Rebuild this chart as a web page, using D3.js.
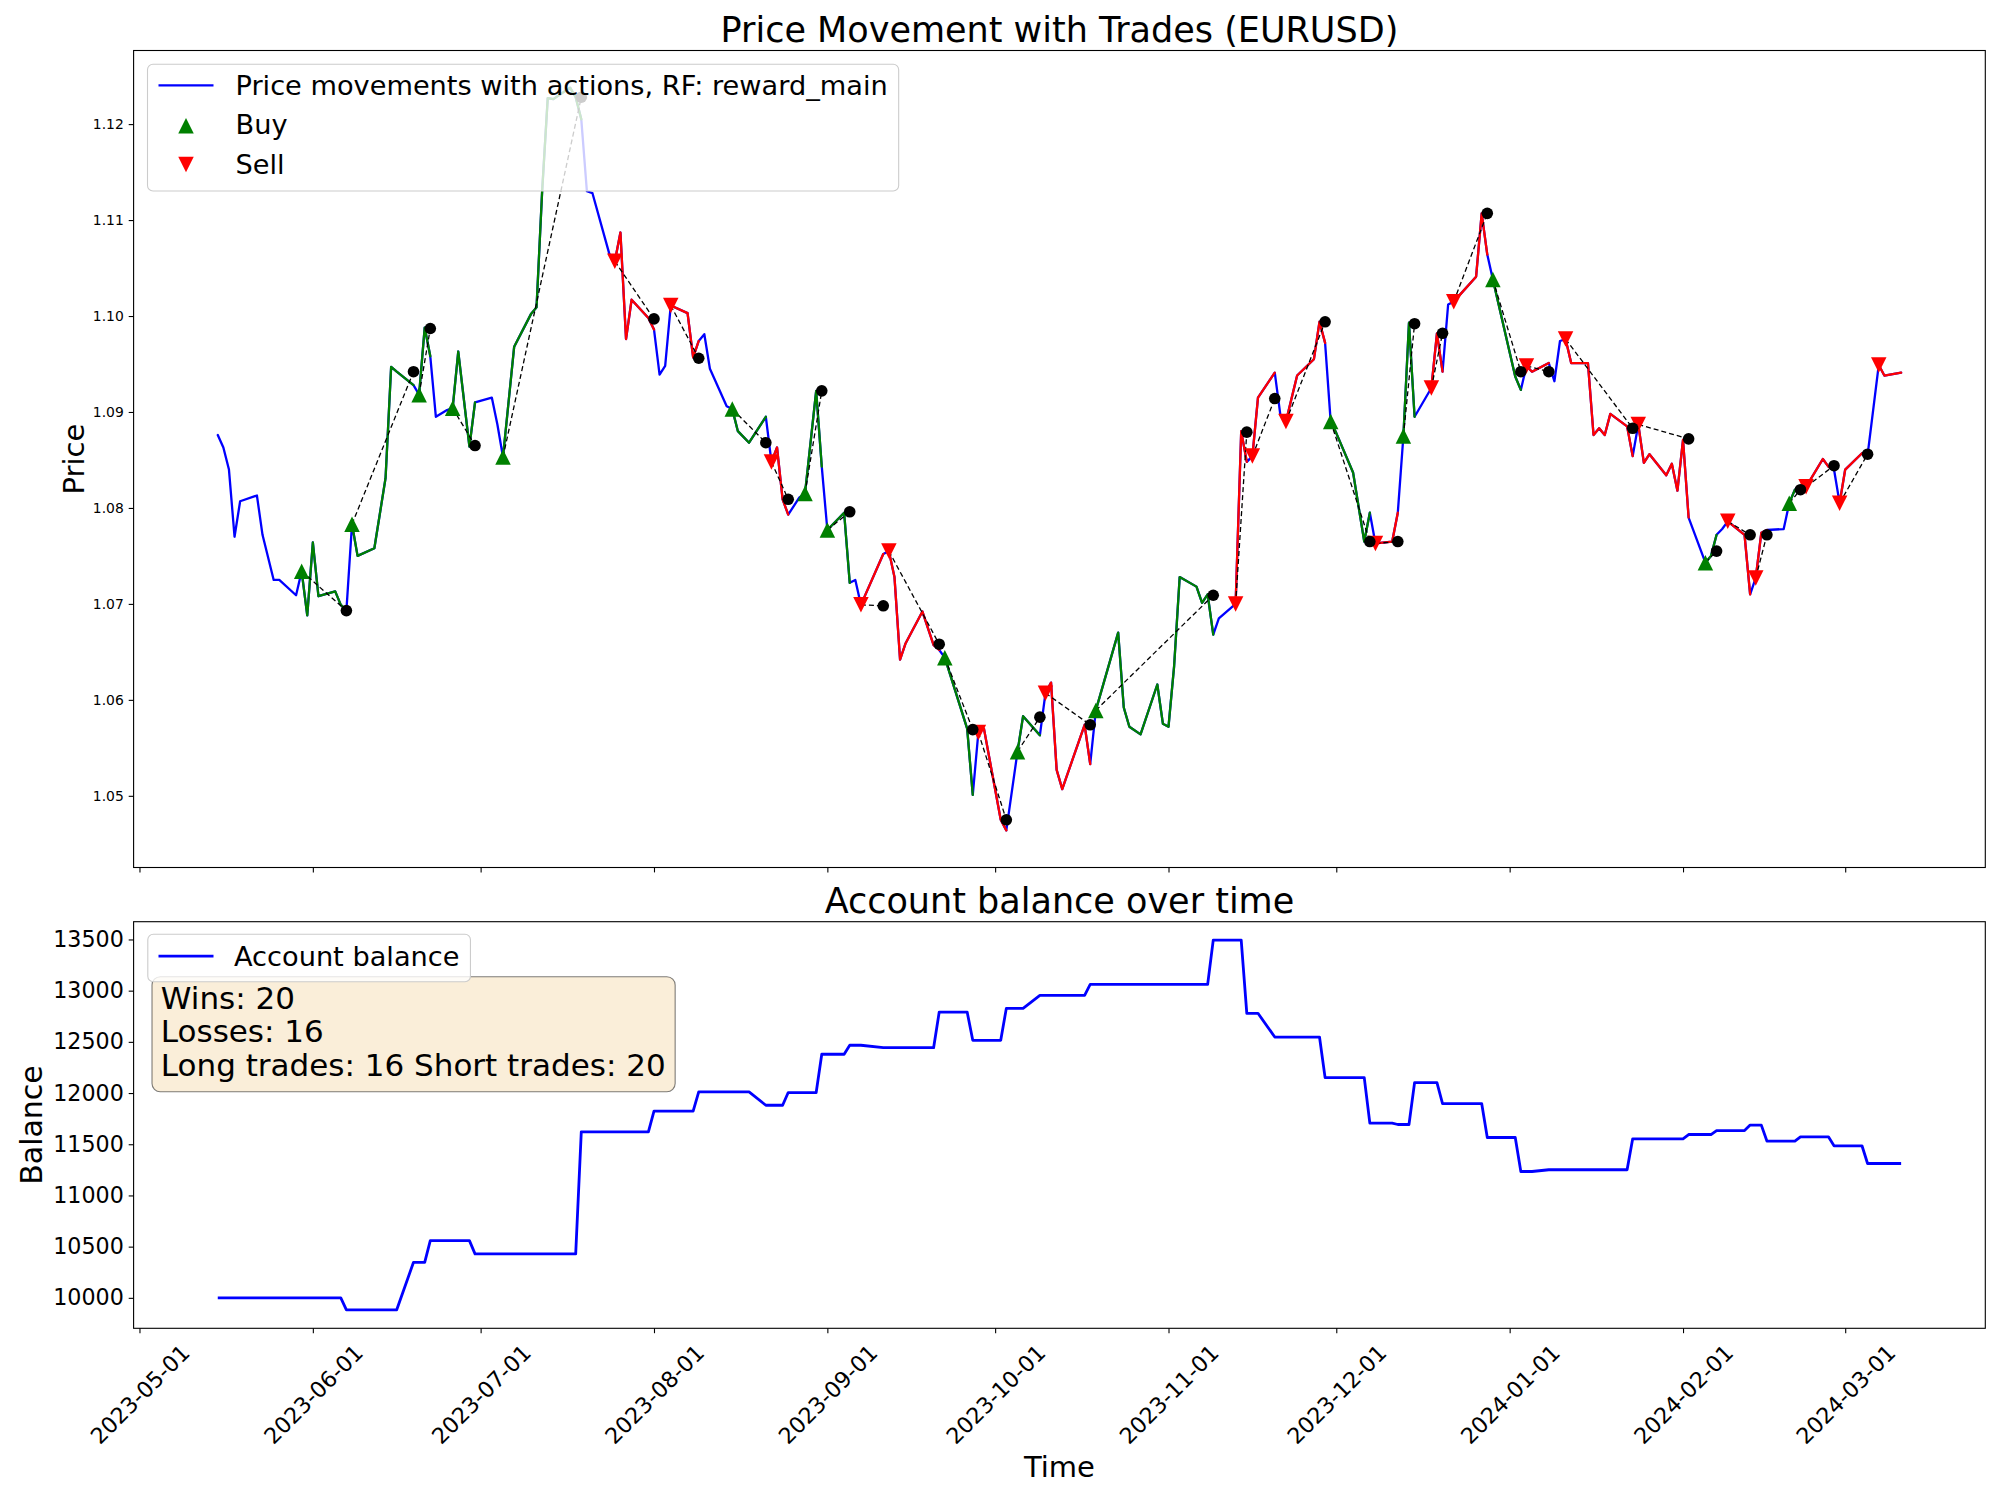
<!DOCTYPE html>
<html lang="en">
<head>
<meta charset="UTF-8">
<title>Price Movement with Trades (EURUSD)</title>
<script src="https://d3js.org/d3.v7.min.js"></script>
<style>
    body { margin: 0; background: #ffffff; }
    svg { display: block; font-family: "DejaVu Sans", sans-serif; }
</style>
</head>
<body>
<svg id="chart" width="2000" height="1500"></svg>
<script>
// ---- data ----
const priceDates = [
    "2023-05-15","2023-05-16","2023-05-17","2023-05-18","2023-05-19",
    "2023-05-22","2023-05-23","2023-05-25","2023-05-26",
    "2023-05-29","2023-05-30","2023-05-31","2023-06-01","2023-06-02",
    "2023-06-05","2023-06-06","2023-06-07","2023-06-08","2023-06-09",
    "2023-06-12","2023-06-14","2023-06-15","2023-06-16",
    "2023-06-19","2023-06-20","2023-06-21","2023-06-22","2023-06-23",
    "2023-06-25","2023-06-26","2023-06-27","2023-06-29","2023-06-30",
    "2023-07-03","2023-07-04","2023-07-05","2023-07-07",
    "2023-07-10","2023-07-11","2023-07-12","2023-07-13","2023-07-14",
    "2023-07-17","2023-07-18","2023-07-19","2023-07-20","2023-07-21",
    "2023-07-24","2023-07-25","2023-07-26","2023-07-27","2023-07-28",
    "2023-07-31","2023-08-01","2023-08-02","2023-08-03","2023-08-04",
    "2023-08-07","2023-08-08","2023-08-09","2023-08-10","2023-08-11",
    "2023-08-14","2023-08-15","2023-08-16","2023-08-18",
    "2023-08-21","2023-08-22","2023-08-23","2023-08-24","2023-08-25",
    "2023-08-27","2023-08-28","2023-08-30","2023-08-31","2023-09-01",
    "2023-09-04","2023-09-05","2023-09-06","2023-09-07",
    "2023-09-11","2023-09-12","2023-09-13","2023-09-14","2023-09-15",
    "2023-09-18","2023-09-20","2023-09-21","2023-09-22",
    "2023-09-26","2023-09-27","2023-09-28","2023-09-29",
    "2023-10-02","2023-10-03","2023-10-05","2023-10-06",
    "2023-10-09","2023-10-10","2023-10-11","2023-10-12","2023-10-13",
    "2023-10-17","2023-10-18","2023-10-19",
    "2023-10-23","2023-10-24","2023-10-25","2023-10-27",
    "2023-10-30","2023-10-31","2023-11-01","2023-11-02","2023-11-03",
    "2023-11-06","2023-11-07","2023-11-08","2023-11-09","2023-11-10",
    "2023-11-13","2023-11-14","2023-11-15","2023-11-16","2023-11-17",
    "2023-11-20","2023-11-21","2023-11-22","2023-11-24",
    "2023-11-27","2023-11-28","2023-11-29","2023-11-30","2023-12-01",
    "2023-12-04","2023-12-06","2023-12-07","2023-12-08",
    "2023-12-11","2023-12-12","2023-12-13","2023-12-14","2023-12-15",
    "2023-12-18","2023-12-19","2023-12-20","2023-12-21","2023-12-22",
    "2023-12-26","2023-12-27","2023-12-28","2023-12-29",
    "2024-01-02","2024-01-03","2024-01-04","2024-01-05",
    "2024-01-08","2024-01-09","2024-01-10","2024-01-11","2024-01-12",
    "2024-01-15","2024-01-16","2024-01-17","2024-01-18","2024-01-19",
    "2024-01-22","2024-01-23","2024-01-24","2024-01-25","2024-01-26",
    "2024-01-29","2024-01-30","2024-01-31","2024-02-01","2024-02-02",
    "2024-02-05","2024-02-06","2024-02-07","2024-02-08","2024-02-09",
    "2024-02-12","2024-02-13","2024-02-14","2024-02-15","2024-02-16",
    "2024-02-19","2024-02-20","2024-02-21","2024-02-22","2024-02-23",
    "2024-02-26","2024-02-27","2024-02-28","2024-02-29","2024-03-01",
    "2024-03-04","2024-03-05","2024-03-07","2024-03-08","2024-03-11"
];

const priceValues = [
    1.0876, 1.0863, 1.0840, 1.0770, 1.0807,
    1.0813, 1.0772, 1.0725, 1.0725,
    1.0709, 1.0734, 1.0688, 1.0764, 1.0708,
    1.0713, 1.0699, 1.0693, 1.0783, 1.0750,
    1.0758, 1.0831, 1.0947, 1.0942,
    1.0928, 1.0918, 1.0988, 1.0958, 1.0895,
    1.0902, 1.0904, 1.0963, 1.0864, 1.0910,
    1.0915, 1.0887, 1.0853, 1.0968,
    1.1002, 1.1009, 1.1130, 1.1227, 1.1226,
    1.1238, 1.1228, 1.1205, 1.1130, 1.1128,
    1.1065, 1.1057, 1.1087, 1.0976, 1.1017,
    1.0998, 1.0986, 1.0939, 1.0948, 1.1011,
    1.1003, 1.0957, 1.0974, 1.0981, 1.0945,
    1.0906, 1.0903, 1.0880, 1.0868,
    1.0895, 1.0848, 1.0863, 1.0809, 1.0793,
    1.0811, 1.0815, 1.0922, 1.0843, 1.0777,
    1.0795, 1.0722, 1.0725, 1.0699,
    1.0752, 1.0755, 1.0728, 1.0642, 1.0659,
    1.0692, 1.0657, 1.0652, 1.0644,
    1.0570, 1.0501, 1.0566, 1.0570,
    1.0475, 1.0464, 1.0546, 1.0583,
    1.0563, 1.0607, 1.0618, 1.0527, 1.0507,
    1.0574, 1.0533, 1.0589,
    1.0670, 1.0592, 1.0572, 1.0564,
    1.0616, 1.0575, 1.0572, 1.0635, 1.0728,
    1.0718, 1.0701, 1.0710, 1.0668, 1.0685,
    1.0700, 1.0880, 1.0848, 1.0854, 1.0915,
    1.0941, 1.0897, 1.0890, 1.0938,
    1.0955, 1.0994, 1.0972, 1.0890, 1.0878,
    1.0837, 1.0765, 1.0795, 1.0763,
    1.0765, 1.0795, 1.0875, 1.0993, 1.0895,
    1.0925, 1.0982, 1.0942, 1.1012, 1.1015,
    1.1041, 1.1107, 1.1064, 1.1038,
    1.0937, 1.0923, 1.0948, 1.0942,
    1.0951, 1.0932, 1.0974, 1.0976, 1.0951,
    1.0951, 1.0876, 1.0883, 1.0876, 1.0898,
    1.0885, 1.0854, 1.0887, 1.0847, 1.0856,
    1.0834, 1.0846, 1.0818, 1.0871, 1.0790,
    1.0743, 1.0750, 1.0772, 1.0778, 1.0786,
    1.0772, 1.0710, 1.0727, 1.0774, 1.0777,
    1.0778, 1.0805, 1.0819, 1.0820, 1.0822,
    1.0851, 1.0843, 1.0840, 1.0805, 1.0840,
    1.0857, 1.0855, 1.0949, 1.0938, 1.0941
];

// trades: entry date, direction, exit date and the price where the exit dot sits
const tradeEntryDates = [
    "2023-05-30","2023-06-08","2023-06-20","2023-06-26","2023-07-05","2023-07-25",
    "2023-08-04","2023-08-15","2023-08-22","2023-08-28","2023-09-01","2023-09-07",
    "2023-09-12","2023-09-22","2023-09-28","2023-10-05","2023-10-10","2023-10-19",
    "2023-11-13","2023-11-16","2023-11-22","2023-11-30","2023-12-08","2023-12-13",
    "2023-12-18","2023-12-22","2023-12-29","2024-01-04","2024-01-11","2024-01-24",
    "2024-02-05","2024-02-09","2024-02-14","2024-02-20","2024-02-23","2024-02-29",
    "2024-03-07"
];
const tradeTypes = [
    "buy","buy","buy","buy","buy","sell",
    "sell","buy","sell","buy","buy","sell",
    "sell","buy","sell","buy","sell","buy",
    "sell","sell","sell","buy","sell","buy",
    "sell","sell","buy","sell","sell","sell",
    "buy","sell","sell","buy","sell","sell",
    "sell"
];
const tradeExitDates = [
    "2023-06-07","2023-06-19","2023-06-22","2023-06-30","2023-07-19","2023-08-01",
    "2023-08-09","2023-08-21","2023-08-25","2023-08-31","2023-09-05","2023-09-11",
    "2023-09-21","2023-09-27","2023-10-03","2023-10-09","2023-10-18","2023-11-09",
    "2023-11-15","2023-11-20","2023-11-29","2023-12-07","2023-12-12","2023-12-15",
    "2023-12-20","2023-12-28","2024-01-03","2024-01-08","2024-01-23","2024-02-02",
    "2024-02-07","2024-02-13","2024-02-16","2024-02-22","2024-02-28","2024-03-05",
    null
];
const tradeExitPrices = [
    1.0693, 1.0942, 1.0987, 1.0865, 1.1228, 1.0997,
    1.0956, 1.0868, 1.0809, 1.0922, 1.0796, 1.0698,
    1.0658, 1.0569, 1.0475, 1.0582, 1.0574, 1.0709,
    1.0879, 1.0914, 1.0994, 1.0765, 1.0765, 1.0992,
    1.0982, 1.1107, 1.0942, 1.0942, 1.0883, 1.0872,
    1.0755, 1.0772, 1.0772, 1.0819, 1.0844, 1.0856,
    null
];

// account balance after each closed trade
const startBalance = 10000;
const exitBalances = [
    9883, 10347, 10559, 10429, 11621, 11823,
    12011, 11881, 12005, 12379, 12467, 12443,
    12791, 12515, 12827, 12954, 13061, 13493,
    12779, 12547, 12151, 11706, 11693, 12102,
    11897, 11566, 11234, 11251, 11553, 11595,
    11634, 11687, 11531, 11573, 11485, 11312
];

const priceTicks = [1.05, 1.06, 1.07, 1.08, 1.09, 1.10, 1.11, 1.12];
const balanceTicks = [10000, 10500, 11000, 11500, 12000, 12500, 13000, 13500];

// ---- build records ----
const parse = d3.utcParse("%Y-%m-%d");
const points = priceDates.map((d, i) => ({ date: parse(d), price: priceValues[i] }));

const trades = tradeEntryDates.map((d, i) => ({
    entry: parse(d),
    type: tradeTypes[i],
    exit: tradeExitDates[i] ? parse(tradeExitDates[i]) : null,
    exitPrice: tradeExitPrices[i]
}));
trades.forEach(t => {
    const p = points.find(p => +p.date === +t.entry);
    t.entryPrice = p.price;
});

// position held after each bar
points.forEach(p => {
    const t = trades.find(t => p.date >= t.entry && (!t.exit || p.date < t.exit));
    p.state = t ? t.type : "flat";
});

const closed = trades.filter(t => t.exit);
points.forEach(p => {
    let b = startBalance;
    closed.forEach((t, i) => { if (t.exit <= p.date) b = exitBalances[i]; });
    p.balance = b;
});

let wins = 0, losses = 0;
exitBalances.forEach((b, i) => {
    const prev = i === 0 ? startBalance : exitBalances[i - 1];
    if (b > prev) wins++; else losses++;
});
const longCount = closed.filter(t => t.type === "buy").length;
const shortCount = closed.filter(t => t.type === "sell").length;

// ---- layout ----
const left = 133.6, right = 1985.3;
const top1 = 50.5, bottom1 = 867.5;
const top2 = 921.7, bottom2 = 1328.3;
const tickLen = 4.9;

function padded(ext) {
    const m = (ext[1] - ext[0]) * 0.05;
    return [ext[0] - m, ext[1] + m];
}

const tExt = d3.extent(points, d => d.date);
const tSpan = tExt[1] - tExt[0];
const x = d3.scaleUtc()
    .domain([new Date(+tExt[0] - 0.05 * tSpan), new Date(+tExt[1] + 0.05 * tSpan)])
    .range([left, right]);

const allPrices = priceValues.concat(tradeExitPrices.filter(v => v !== null));
const yPrice = d3.scaleLinear().domain(padded(d3.extent(allPrices))).range([bottom1, top1]);
const yBal = d3.scaleLinear().domain(padded(d3.extent(points, d => d.balance))).range([bottom2, top2]);

const colors = { flat: "#0000ff", buy: "#008000", sell: "#ff0000" };

const svg = d3.select("#chart");

function styleAxis(g, fontSize) {
    g.select(".domain").remove();
    g.selectAll(".tick line").attr("stroke", "#000").attr("stroke-width", 1.1);
    g.attr("font-family", "DejaVu Sans, sans-serif").attr("font-size", fontSize);
    g.selectAll(".tick text").attr("fill", "#000");
}

// ================= price panel =================
const pricePanel = svg.append("g");

const priceLine = d3.line().x(d => x(d.date)).y(d => yPrice(d.price));

pricePanel.append("path")
    .datum(points)
    .attr("d", priceLine)
    .attr("fill", "none")
    .attr("stroke", colors.flat)
    .attr("stroke-width", 2.3)
    .attr("stroke-linejoin", "round")
    .attr("stroke-linecap", "round");

// runs of bars while a position is open
const runs = [];
let i = 0;
while (i < points.length - 1) {
    const s = points[i].state;
    if (s === "flat") { i++; continue; }
    let j = i;
    while (j < points.length - 1 && points[j].state === s) j++;
    runs.push({ state: s, pts: points.slice(i, j + 1) });
    i = j;
}

pricePanel.selectAll("path.run")
    .data(runs)
    .enter()
    .append("path")
    .attr("class", "run")
    .attr("d", d => priceLine(d.pts))
    .attr("fill", "none")
    .attr("stroke", d => colors[d.state])
    .attr("stroke-width", 2.3)
    .attr("stroke-linejoin", "round")
    .attr("stroke-linecap", "round");

// entry -> exit dashed connectors
pricePanel.selectAll("line.trade")
    .data(closed)
    .enter()
    .append("line")
    .attr("class", "trade")
    .attr("x1", d => x(d.entry))
    .attr("y1", d => yPrice(d.entryPrice))
    .attr("x2", d => x(d.exit))
    .attr("y2", d => yPrice(d.exitPrice))
    .attr("stroke", "#000")
    .attr("stroke-width", 1.3)
    .attr("stroke-dasharray", "5,3");

const tri = 7.75;
const triUp = `M0,${-tri}L${tri},${tri}L${-tri},${tri}Z`;
const triDown = `M0,${tri}L${tri},${-tri}L${-tri},${-tri}Z`;

pricePanel.selectAll("path.marker")
    .data(trades)
    .enter()
    .append("path")
    .attr("class", "marker")
    .attr("transform", d => `translate(${x(d.entry)},${yPrice(d.entryPrice)})`)
    .attr("d", d => d.type === "buy" ? triUp : triDown)
    .attr("fill", d => d.type === "buy" ? colors.buy : colors.sell);

pricePanel.selectAll("circle.exit")
    .data(closed)
    .enter()
    .append("circle")
    .attr("class", "exit")
    .attr("cx", d => x(d.exit))
    .attr("cy", d => yPrice(d.exitPrice))
    .attr("r", 5.8)
    .attr("fill", "#000");

// axes
pricePanel.append("g")
    .attr("transform", `translate(0,${bottom1})`)
    .call(d3.axisBottom(x).ticks(d3.utcMonth.every(1)).tickSize(tickLen).tickFormat(""))
    .call(g => styleAxis(g, 14));

pricePanel.append("g")
    .attr("transform", `translate(${left},0)`)
    .call(d3.axisLeft(yPrice).tickValues(priceTicks).tickSize(tickLen).tickPadding(4.9).tickFormat(d3.format(".2f")))
    .call(g => styleAxis(g, 13.9));

pricePanel.append("rect")
    .attr("x", left).attr("y", top1)
    .attr("width", right - left).attr("height", bottom1 - top1)
    .attr("fill", "none").attr("stroke", "#000").attr("stroke-width", 1.1);

pricePanel.append("text")
    .attr("x", (left + right) / 2).attr("y", 42)
    .attr("text-anchor", "middle")
    .attr("font-size", 35)
    .text("Price Movement with Trades (EURUSD)");

pricePanel.append("text")
    .attr("transform", `translate(84,${(top1 + bottom1) / 2}) rotate(-90)`)
    .attr("text-anchor", "middle")
    .attr("font-size", 29)
    .text("Price");

// legend
const leg = pricePanel.append("g");
const legBox = leg.append("rect")
    .attr("x", 147.5).attr("y", 64.3)
    .attr("height", 126.7)
    .attr("rx", 5.5)
    .attr("fill", "#fff").attr("fill-opacity", 0.8)
    .attr("stroke", "#cccccc").attr("stroke-width", 1.1);

leg.append("line")
    .attr("x1", 158.5).attr("x2", 213.5)
    .attr("y1", 85.3).attr("y2", 85.3)
    .attr("stroke", colors.flat).attr("stroke-width", 2.3);
leg.append("path").attr("transform", "translate(186,125.8)").attr("d", triUp).attr("fill", colors.buy);
leg.append("path").attr("transform", "translate(186,164.5)").attr("d", triDown).attr("fill", colors.sell);

const legLabels = ["Price movements with actions, RF: reward_main", "Buy", "Sell"];
const legBase = [95, 134, 173.5];
let legMax = 0;
legLabels.forEach((t, k) => {
    const el = leg.append("text")
        .attr("x", 235.5).attr("y", legBase[k])
        .attr("font-size", 27.2)
        .text(t);
    legMax = Math.max(legMax, el.node().getComputedTextLength());
});
legBox.attr("width", 235.5 + legMax + 11 - 147.5);

// ================= balance panel =================
const balancePanel = svg.append("g");

balancePanel.append("path")
    .datum(points)
    .attr("d", d3.line().x(d => x(d.date)).y(d => yBal(d.balance)))
    .attr("fill", "none")
    .attr("stroke", "#0000ff")
    .attr("stroke-width", 2.8)
    .attr("stroke-linejoin", "round");

balancePanel.append("g")
    .attr("transform", `translate(0,${bottom2})`)
    .call(d3.axisBottom(x).ticks(d3.utcMonth.every(1)).tickSize(tickLen).tickFormat(d3.utcFormat("%Y-%m-%d")))
    .call(g => styleAxis(g, 22.2))
    .call(g => g.selectAll(".tick text")
        .attr("y", null).attr("dy", null)
        .attr("text-anchor", "middle")
        .attr("dominant-baseline", "central")
        .attr("transform", "translate(0,66) rotate(-45)"));

balancePanel.append("g")
    .attr("transform", `translate(${left},0)`)
    .call(d3.axisLeft(yBal).tickValues(balanceTicks).tickSize(tickLen).tickPadding(4.9).tickFormat(d3.format("d")))
    .call(g => styleAxis(g, 22.2));

balancePanel.append("rect")
    .attr("x", left).attr("y", top2)
    .attr("width", right - left).attr("height", bottom2 - top2)
    .attr("fill", "none").attr("stroke", "#000").attr("stroke-width", 1.1);

balancePanel.append("text")
    .attr("x", (left + right) / 2).attr("y", 913.4)
    .attr("text-anchor", "middle")
    .attr("font-size", 35)
    .text("Account balance over time");

balancePanel.append("text")
    .attr("transform", `translate(41.5,${(top2 + bottom2) / 2}) rotate(-90)`)
    .attr("text-anchor", "middle")
    .attr("font-size", 30)
    .text("Balance");

balancePanel.append("text")
    .attr("x", (left + right) / 2).attr("y", 1477)
    .attr("text-anchor", "middle")
    .attr("font-size", 29)
    .text("Time");

// stats box
const stats = balancePanel.append("g");
const statBox = stats.append("rect")
    .attr("x", 152).attr("y", 976.7)
    .attr("height", 115)
    .attr("rx", 8.3)
    .attr("fill", "#f5deb3").attr("fill-opacity", 0.5)
    .attr("stroke", "#000").attr("stroke-opacity", 0.5).attr("stroke-width", 1.1);
const statLines = [
    `Wins: ${wins}`,
    `Losses: ${losses}`,
    `Long trades: ${longCount} Short trades: ${shortCount}`
];
const statBase = [1009, 1042.3, 1075.6];
let statMax = 0;
statLines.forEach((t, k) => {
    const el = stats.append("text")
        .attr("x", 160.8).attr("y", statBase[k])
        .attr("font-size", 31)
        .text(t);
    statMax = Math.max(statMax, el.node().getComputedTextLength());
});
statBox.attr("width", statMax + 18.3);

// balance legend
const leg2 = balancePanel.append("g");
const leg2Box = leg2.append("rect")
    .attr("x", 147.8).attr("y", 934.3)
    .attr("height", 47.4)
    .attr("rx", 5.5)
    .attr("fill", "#fff").attr("fill-opacity", 0.8)
    .attr("stroke", "#cccccc").attr("stroke-width", 1.1);
leg2.append("line")
    .attr("x1", 158.5).attr("x2", 213.5)
    .attr("y1", 956.2).attr("y2", 956.2)
    .attr("stroke", "#0000ff").attr("stroke-width", 2.8);
const leg2Text = leg2.append("text")
    .attr("x", 234).attr("y", 965.6)
    .attr("font-size", 27.2)
    .text("Account balance");
leg2Box.attr("width", 234 + leg2Text.node().getComputedTextLength() + 11 - 147.8);
</script>
</body>
</html>
